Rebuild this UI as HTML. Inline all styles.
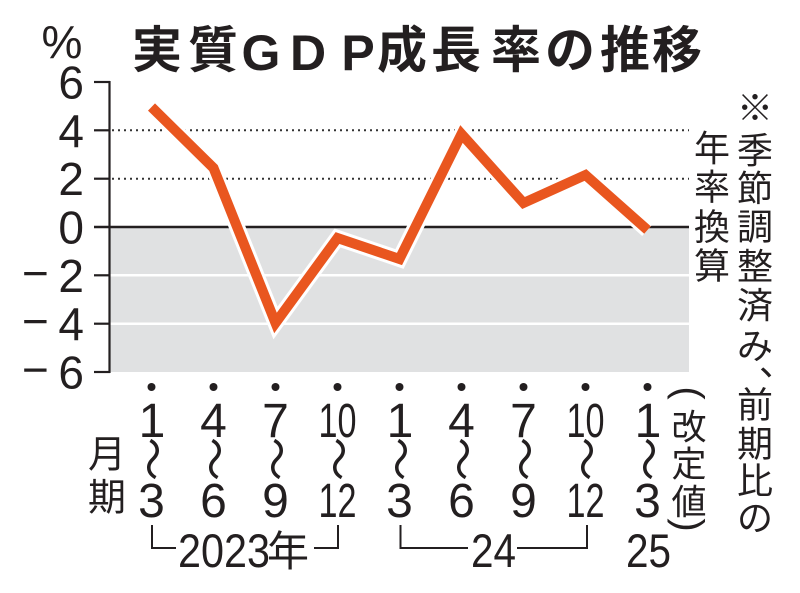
<!DOCTYPE html>
<html lang="ja">
<head>
<meta charset="utf-8">
<style>
  html,body{margin:0;padding:0;background:#fff;}
  body{width:800px;height:593px;overflow:hidden;}
  svg{display:block;}
  .n{font-family:"Liberation Sans","Noto Sans CJK JP",sans-serif;fill:#231f20;}
  .j{font-family:"Liberation Sans","Noto Sans CJK JP",sans-serif;fill:#231f20;}
</style>
</head>
<body>
<svg width="800" height="593" viewBox="0 0 800 593" xmlns="http://www.w3.org/2000/svg">
  <rect width="800" height="593" fill="#fff"/>

  <!-- Title -->
  <g class="j" font-size="50" font-weight="bold" text-anchor="middle">
    <text x="157" y="67.5">実</text>
    <text x="213" y="67.5">質</text>
    <text x="402" y="67.5">成</text>
    <text x="456" y="67.5">長</text>
    <text x="516" y="67.5">率</text>
    <text x="570" y="67.5">の</text>
    <text x="625" y="67.5">推</text>
    <text x="677" y="67.5">移</text>
  </g>
  <g class="n" font-size="50" font-weight="bold" text-anchor="middle">
    <text x="261" y="70">G</text>
    <text x="308" y="70">D</text>
    <text x="358" y="70">P</text>
  </g>

  <!-- % unit -->
  <text class="n" x="62" y="58" font-size="46" text-anchor="middle">%</text>

  <!-- plot background -->
  <rect x="110" y="227" width="579" height="145" fill="#e0e1e2"/>
  <line x1="110" y1="275.3" x2="689" y2="275.3" stroke="#fff" stroke-width="2.5"/>
  <line x1="110" y1="323.7" x2="689" y2="323.7" stroke="#fff" stroke-width="2.5"/>

  <!-- dotted gridlines -->
  <line x1="112" y1="130.3" x2="689" y2="130.3" stroke="#333" stroke-width="2" stroke-dasharray="2 4"/>
  <line x1="112" y1="178.7" x2="689" y2="178.7" stroke="#333" stroke-width="2" stroke-dasharray="2 4"/>

  <!-- zero line -->
  <line x1="94" y1="227" x2="689" y2="227" stroke="#231f20" stroke-width="2.5"/>

  <!-- y axis + ticks -->
  <g stroke="#231f20" stroke-width="2.2">
    <line x1="109.5" y1="81" x2="109.5" y2="373"/>
    <line x1="94" y1="82" x2="110" y2="82"/>
    <line x1="94" y1="130.3" x2="110" y2="130.3"/>
    <line x1="94" y1="178.7" x2="110" y2="178.7"/>
    <line x1="94" y1="275.3" x2="110" y2="275.3"/>
    <line x1="94" y1="323.7" x2="110" y2="323.7"/>
    <line x1="94" y1="372" x2="110" y2="372"/>
  </g>

  <!-- y labels -->
  <g class="n" font-size="46" text-anchor="end">
    <text x="84" y="98.5">6</text>
    <text x="84" y="146.8">4</text>
    <text x="84" y="195.2">2</text>
    <text x="84" y="243.5">0</text>
    <text x="84" y="291.8">2</text>
    <text x="84" y="340.2">4</text>
    <text x="84" y="388.5">6</text>
  </g>
  <g class="n" font-size="46">
    <text x="22" y="288.8">−</text>
    <text x="22" y="337.2">−</text>
    <text x="22" y="385.5">−</text>
  </g>

  <!-- series -->
  <polyline points="151.5,107 213.5,168 275.5,323 337.5,238 399.5,259 461.5,134 523.5,203 585.5,175 647.5,230"
    fill="none" stroke="#fff" stroke-width="16" stroke-linejoin="miter" stroke-linecap="butt"/>
  <polyline points="151.5,107 213.5,168 275.5,323 337.5,238 399.5,259 461.5,134 523.5,203 585.5,175 647.5,230"
    fill="none" stroke="#e9561f" stroke-width="10" stroke-linejoin="miter" stroke-linecap="butt"/>

  <!-- x-axis dots -->
  <g fill="#231f20">
    <circle cx="151.5" cy="387" r="4"/>
    <circle cx="213.5" cy="387" r="4"/>
    <circle cx="275.5" cy="387" r="4"/>
    <circle cx="337.5" cy="387" r="4"/>
    <circle cx="399.5" cy="387" r="4"/>
    <circle cx="461.5" cy="387" r="4"/>
    <circle cx="523.5" cy="387" r="4"/>
    <circle cx="585.5" cy="387" r="4"/>
    <circle cx="647.5" cy="387" r="4"/>
  </g>

  <!-- x labels top row -->
  <g class="n" font-size="48" text-anchor="middle">
    <text x="152" y="437">1</text>
    <text x="213.5" y="437">4</text>
    <text x="275.5" y="437">7</text>
    <text x="337.5" y="437" textLength="38" lengthAdjust="spacingAndGlyphs">10</text>
    <text x="400" y="437">1</text>
    <text x="461.5" y="437">4</text>
    <text x="523.5" y="437">7</text>
    <text x="585.5" y="437" textLength="38" lengthAdjust="spacingAndGlyphs">10</text>
    <text x="648" y="437">1</text>
  </g>

  <!-- wave dashes (vertical) -->
  <g class="j" font-size="44" text-anchor="middle">
    <text transform="translate(151.5,459) rotate(90)" y="15">〜</text>
    <text transform="translate(213.5,459) rotate(90)" y="15">〜</text>
    <text transform="translate(275.5,459) rotate(90)" y="15">〜</text>
    <text transform="translate(337.5,459) rotate(90)" y="15">〜</text>
    <text transform="translate(399.5,459) rotate(90)" y="15">〜</text>
    <text transform="translate(461.5,459) rotate(90)" y="15">〜</text>
    <text transform="translate(523.5,459) rotate(90)" y="15">〜</text>
    <text transform="translate(585.5,459) rotate(90)" y="15">〜</text>
    <text transform="translate(647.5,459) rotate(90)" y="15">〜</text>
  </g>

  <!-- x labels bottom row -->
  <g class="n" font-size="48" text-anchor="middle">
    <text x="151.5" y="517">3</text>
    <text x="213.5" y="517">6</text>
    <text x="275.5" y="517">9</text>
    <text x="337.5" y="517" textLength="38" lengthAdjust="spacingAndGlyphs">12</text>
    <text x="399.5" y="517">3</text>
    <text x="461.5" y="517">6</text>
    <text x="523.5" y="517">9</text>
    <text x="585.5" y="517" textLength="38" lengthAdjust="spacingAndGlyphs">12</text>
    <text x="647.5" y="517">3</text>
  </g>

  <!-- 月期 -->
  <g class="j" font-size="38" text-anchor="middle">
    <text x="107" y="467.5">月</text>
    <text x="107" y="510.5">期</text>
  </g>

  <!-- year brackets -->
  <g stroke="#231f20" stroke-width="2" fill="none">
    <polyline points="152,525 152,548 176,548"/>
    <polyline points="314,548 338,548 338,525"/>
    <polyline points="400.5,525 400.5,548 468,548"/>
    <polyline points="517,548 587,548 587,525"/>
  </g>
  <g class="n" font-size="47">
    <text x="178" y="567" textLength="92" lengthAdjust="spacingAndGlyphs">2023</text>
    <text x="471" y="567" textLength="45" lengthAdjust="spacingAndGlyphs">24</text>
    <text x="626" y="567" textLength="45" lengthAdjust="spacingAndGlyphs">25</text>
  </g>
  <text class="j" x="288" y="566" font-size="42" text-anchor="middle">年</text>

  <!-- right note column 1 -->
  <g class="j" font-size="36" text-anchor="middle">
    <text x="755" y="120.7">※</text>
    <text x="755" y="163.2">季</text>
    <text x="755" y="201.2">節</text>
    <text x="755" y="239.7">調</text>
    <text x="755" y="279.2">整</text>
    <text x="755" y="318.2">済</text>
    <text x="755" y="358.7">み</text>
    <text x="755" y="417.7">前</text>
    <text x="755" y="456.7">期</text>
    <text x="755" y="493.7">比</text>
    <text x="755" y="530.7">の</text>
  </g>
  <text class="j" x="759" y="375" font-size="36">、</text>

  <!-- right note column 2 -->
  <g class="j" font-size="36" text-anchor="middle">
    <text x="712" y="161.2">年</text>
    <text x="712" y="199.7">率</text>
    <text x="712" y="239.7">換</text>
    <text x="712" y="278.7">算</text>
  </g>

  <!-- (改定値) -->
  <g class="j" font-size="35" text-anchor="middle">
    <text x="689" y="439.3">改</text>
    <text x="689" y="476.3">定</text>
    <text x="689" y="514.3">値</text>
  </g>
  <g class="n" font-size="40" text-anchor="middle">
    <text transform="translate(689,393) rotate(90)" y="13">(</text>
    <text transform="translate(689,525) rotate(90)" y="13">)</text>
  </g>
</svg>
</body>
</html>
